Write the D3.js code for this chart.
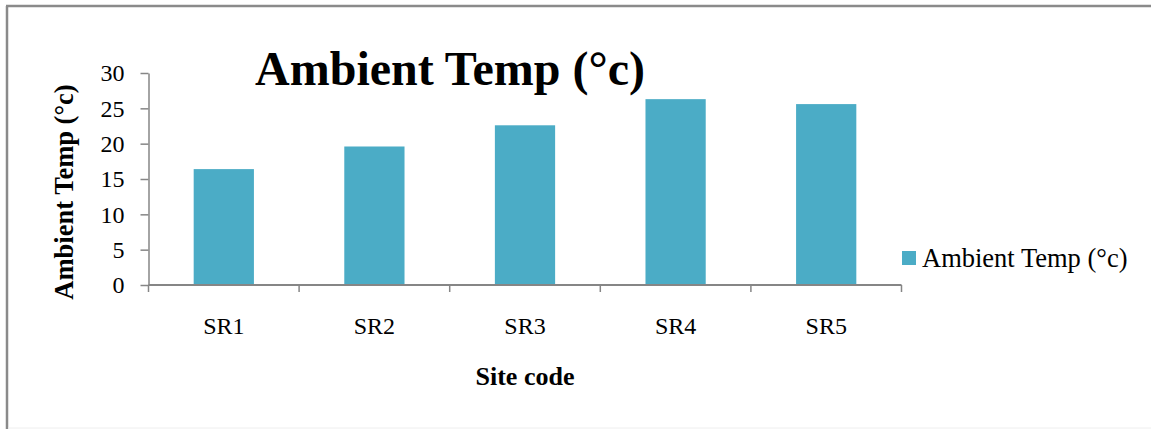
<!DOCTYPE html>
<html>
<head>
<meta charset="utf-8">
<script src="https://cdn.jsdelivr.net/npm/d3@7"></script>
<style>
  html, body { margin: 0; padding: 0; background: #fff; }
  svg { display: block; font-family: "Liberation Serif", "Times New Roman", serif; }
</style>
</head>
<body>
<svg id="chart" width="1151" height="429"></svg>
<script>
// Site codes and mean ambient temperature (°C) per site
const sites = ["SR1", "SR2", "SR3", "SR4", "SR5"];
const ambientTemp = [16.4, 19.6, 22.6, 26.3, 25.6];
const yTicks = [0, 5, 10, 15, 20, 25, 30];
const seriesName = "Ambient Temp (°c)";

const svg = d3.select("#chart");
const barColor = "#4BACC6";
const axisColor = "#868686";

// outer frame
svg.append("line").attr("x1", 7).attr("x2", 7).attr("y1", 6).attr("y2", 429)
  .attr("stroke", "#8a8a8a").attr("stroke-width", 2.5);
svg.append("line").attr("x1", 6).attr("x2", 1151).attr("y1", 6).attr("y2", 6)
  .attr("stroke", "#8a8a8a").attr("stroke-width", 2.5);
svg.append("line").attr("x1", 8).attr("x2", 1151).attr("y1", 428).attr("y2", 428)
  .attr("stroke", "#eeeeee").attr("stroke-width", 1);

const plot = { left: 148.5, right: 901.5, top: 73, bottom: 285 };

const x = d3.scaleBand()
  .domain(sites)
  .range([plot.left, plot.right])
  .paddingInner(0.6)
  .paddingOuter(0.3);

const y = d3.scaleLinear()
  .domain([0, 30])
  .range([plot.bottom, plot.top]);

// bars
svg.append("g")
  .selectAll("rect")
  .data(sites)
  .join("rect")
  .attr("x", d => x(d))
  .attr("width", x.bandwidth())
  .attr("y", (d, i) => y(ambientTemp[i]))
  .attr("height", (d, i) => y(0) - y(ambientTemp[i]))
  .attr("fill", barColor);

// y axis
const yAxis = svg.append("g")
  .attr("transform", `translate(${plot.left},0)`)
  .call(d3.axisLeft(y).tickValues(yTicks).tickSize(8).tickPadding(16).tickSizeOuter(0));
yAxis.select(".domain").attr("stroke", axisColor).attr("stroke-width", 1.5);
yAxis.selectAll(".tick line").attr("stroke", axisColor).attr("stroke-width", 1.5);
yAxis.selectAll(".tick text")
  .attr("font-family", "Liberation Serif, serif")
  .attr("font-size", 24).attr("fill", "#000");

// x axis: category labels centred on bars, tick marks at category boundaries
const xAxis = svg.append("g")
  .attr("transform", `translate(0,${plot.bottom})`)
  .call(d3.axisBottom(x).tickSize(0).tickPadding(32).tickSizeOuter(0));
xAxis.select(".domain").remove();
xAxis.selectAll(".tick text")
  .attr("font-family", "Liberation Serif, serif")
  .attr("font-size", 24).attr("fill", "#000");

const step = x.step();
const boundaries = d3.range(sites.length + 1).map(i => plot.left + i * step);
svg.append("line")
  .attr("x1", plot.left).attr("x2", plot.right)
  .attr("y1", plot.bottom).attr("y2", plot.bottom)
  .attr("stroke", axisColor).attr("stroke-width", 2);
svg.append("g").selectAll("line")
  .data(boundaries)
  .join("line")
  .attr("x1", d => d).attr("x2", d => d)
  .attr("y1", plot.bottom).attr("y2", plot.bottom + 7)
  .attr("stroke", axisColor).attr("stroke-width", 1.5);

// title
svg.append("text")
  .attr("x", 450).attr("y", 85)
  .attr("text-anchor", "middle")
  .attr("font-size", 48).attr("font-weight", "bold")
  .text(seriesName);

// axis titles
svg.append("text")
  .attr("x", (plot.left + plot.right) / 2).attr("y", 385)
  .attr("text-anchor", "middle")
  .attr("font-size", 26).attr("font-weight", "bold")
  .text("Site code");

svg.append("text")
  .attr("transform", "translate(73,192) rotate(-90)")
  .attr("text-anchor", "middle")
  .attr("font-size", 26.5).attr("font-weight", "bold")
  .text("Ambient Temp (°c)");

// legend
const legend = svg.append("g").attr("transform", "translate(902,251)");
legend.append("rect").attr("width", 14).attr("height", 14).attr("fill", barColor);
legend.append("text")
  .attr("x", 20).attr("y", 15.5)
  .attr("font-size", 26.5)
  .text(seriesName);
</script>
</body>
</html>
